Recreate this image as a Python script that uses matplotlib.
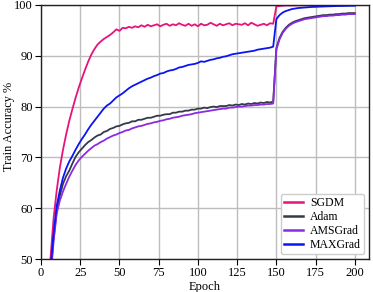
import numpy as np
import matplotlib.pyplot as plt

plt.rcParams['font.family'] = ['Liberation Serif', 'DejaVu Serif']

# epochs 6, 8, ..., 200
epochs = np.arange(6, 201, 2)

sgdm = [50.0, 58.0, 63.5, 68.0, 71.5, 74.5, 77.2, 79.5, 81.7, 83.7,
        85.5, 87.2, 88.8, 90.2, 91.3, 92.2, 92.8, 93.3, 93.7, 94.1,
        94.6, 95.2, 94.9, 95.5, 95.4, 95.7, 95.5, 95.8, 95.6, 96.0,
        95.7, 96.1, 95.8, 96.0, 96.2, 95.8, 96.1, 96.3, 95.9, 96.2,
        96.0, 96.4, 96.1, 95.9, 96.3, 95.9, 96.2, 95.8, 96.3, 96.0,
        96.1, 96.5, 96.2, 95.9, 96.3, 96.0, 96.2, 96.4, 96.0, 96.3,
        96.2, 96.1, 96.4, 96.0, 96.5, 96.2, 95.9, 96.1, 96.3, 96.0,
        96.4, 96.3, 99.7, 99.8, 99.85, 99.9, 99.9, 99.9, 99.92, 99.93,
        99.93, 99.94, 99.94, 99.95, 99.95, 99.95, 99.95, 99.96, 99.96, 99.96,
        99.96, 99.96, 99.97, 99.97, 99.97, 99.97, 99.97, 99.97]

adam = [47.0, 54.0, 59.5, 62.5, 64.8, 66.3, 67.4, 68.8, 70.1, 71.0,
        71.7, 72.4, 73.0, 73.4, 73.9, 74.3, 74.5, 75.0, 75.2, 75.6,
        75.8, 76.1, 76.2, 76.5, 76.7, 76.8, 77.1, 77.1, 77.4, 77.4,
        77.6, 77.8, 77.8, 78.0, 78.2, 78.2, 78.4, 78.5, 78.5, 78.8,
        78.8, 79.0, 79.0, 79.2, 79.2, 79.4, 79.4, 79.6, 79.6, 79.8,
        79.7, 79.9, 80.0, 79.9, 80.1, 80.1, 80.1, 80.3, 80.2, 80.4,
        80.3, 80.5, 80.4, 80.6, 80.5, 80.7, 80.6, 80.8, 80.7, 80.9,
        80.8, 81.0, 91.5, 93.5, 94.7, 95.5, 96.1, 96.5, 96.8, 97.0,
        97.2, 97.4, 97.5, 97.6, 97.7, 97.8, 97.9, 98.0, 98.0, 98.1,
        98.1, 98.2, 98.2, 98.3, 98.3, 98.4, 98.4, 98.4]

amsgrad = [46.0, 53.5, 59.0, 61.5, 63.3, 64.8, 66.2, 67.4, 68.5, 69.4,
           70.1, 70.7, 71.3, 71.8, 72.3, 72.6, 73.0, 73.3, 73.7, 74.0,
           74.3, 74.5, 74.8, 75.0, 75.3, 75.4, 75.7, 75.9, 76.1, 76.2,
           76.4, 76.6, 76.7, 76.9, 77.0, 77.2, 77.3, 77.5, 77.6, 77.8,
           77.9, 78.0, 78.2, 78.3, 78.4, 78.5, 78.7, 78.8, 78.9, 79.0,
           79.1, 79.2, 79.3, 79.4, 79.5, 79.6, 79.6, 79.8, 79.8, 79.9,
           80.0, 80.0, 80.1, 80.2, 80.2, 80.3, 80.3, 80.4, 80.4, 80.5,
           80.5, 80.6, 91.2, 93.2, 94.5, 95.3, 95.9, 96.3, 96.6, 96.8,
           97.0, 97.2, 97.3, 97.4, 97.5, 97.6, 97.7, 97.8, 97.8, 97.9,
           97.9, 98.0, 98.0, 98.1, 98.1, 98.2, 98.2, 98.2]

maxgrad = [48.0, 55.0, 60.5, 63.5, 66.0, 67.8, 69.2, 70.3, 71.5, 72.6,
           73.6, 74.5, 75.5, 76.4, 77.2, 78.0, 78.8, 79.6, 80.2, 80.6,
           81.2, 81.8, 82.2, 82.6, 83.1, 83.6, 84.0, 84.3, 84.6, 84.9,
           85.2, 85.5, 85.7, 86.0, 86.2, 86.5, 86.6, 86.9, 87.1, 87.2,
           87.4, 87.7, 87.8, 88.0, 88.2, 88.3, 88.4, 88.6, 88.9, 88.8,
           89.0, 89.2, 89.3, 89.5, 89.6, 89.8, 89.9, 90.1, 90.3, 90.4,
           90.5, 90.6, 90.7, 90.8, 90.9, 91.0, 91.2, 91.3, 91.4, 91.5,
           91.6, 91.8, 97.2, 98.0, 98.5, 98.8, 99.0, 99.2, 99.3, 99.4,
           99.45, 99.5, 99.55, 99.6, 99.62, 99.65, 99.67, 99.7, 99.72, 99.74,
           99.76, 99.78, 99.8, 99.8, 99.82, 99.83, 99.84, 99.85]

names = ['SGDM', 'Adam', 'AMSGrad', 'MAXGrad']
colors = ['#e8137a', '#333a48', '#8a2be2', '#0a14f5']
series = [sgdm, adam, amsgrad, maxgrad]

fig = plt.figure(figsize=(3.73, 2.92), dpi=100)
ax = fig.add_axes([0.110, 0.113, 0.879, 0.870])

for vals, name, c in zip(series, names, colors):
    ax.plot(epochs, vals, color=c, lw=1.3, label=name)

ax.set_xlim(0, 209)
ax.set_ylim(50, 100)
ax.set_xticks([0, 25, 50, 75, 100, 125, 150, 175, 200])
ax.set_yticks([50, 60, 70, 80, 90, 100])
ax.grid(True, color='#bdbdbd', lw=1.0)
ax.set_axisbelow(True)
for s in ax.spines.values():
    s.set_color('#222222')
    s.set_linewidth(1.0)
ax.tick_params(labelsize=9, length=4, width=0.8, pad=2)
ax.set_xlabel('Epoch', fontsize=9, labelpad=1)
ax.set_ylabel('Train Accuracy %', fontsize=8.8)
ax.yaxis.set_label_coords(-0.080, 0.52)
leg = ax.legend(loc='lower right', fontsize=8.5, handlelength=1.6, handletextpad=0.55,
                borderpad=0.3, labelspacing=0.15, borderaxespad=0.4,
                framealpha=1, edgecolor='#cccccc')
for line in leg.get_lines():
    line.set_linewidth(1.8)

fig.savefig('out.png', dpi=100)
